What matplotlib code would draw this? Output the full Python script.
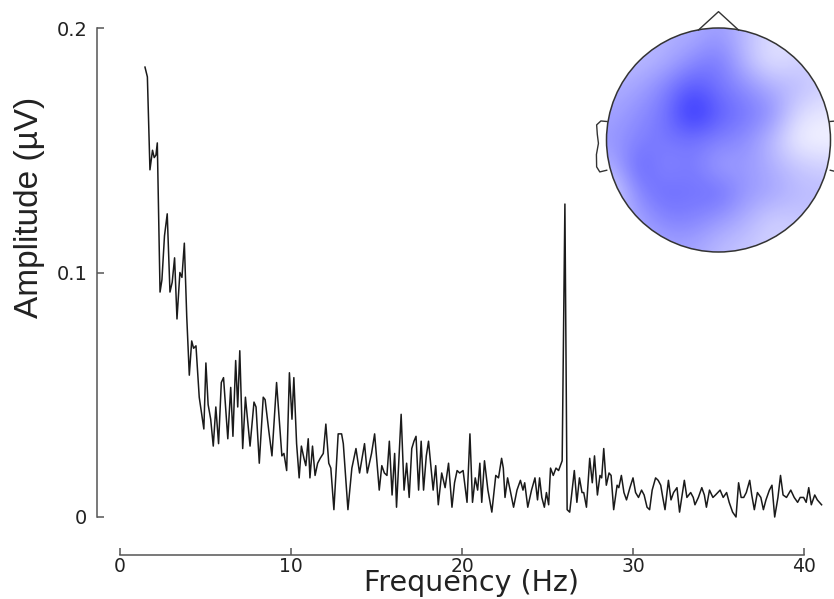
import matplotlib

matplotlib.use("Agg")
import matplotlib.pyplot as plt  # noqa: E402
import numpy as np  # noqa: E402
from matplotlib.colors import LinearSegmentedColormap  # noqa: E402
from matplotlib.patches import Circle  # noqa: E402

# amplitude spectrum (Hz, uV)
FREQ_HZ = [
    1.46, 1.60, 1.75, 1.90, 2.00, 2.10, 2.18, 2.34, 2.45, 2.60, 2.76, 2.92,
    3.05, 3.19, 3.33, 3.50, 3.62, 3.76, 3.90, 4.05, 4.19, 4.30, 4.44, 4.63,
    4.90, 5.02, 5.15, 5.30, 5.45, 5.60, 5.76, 5.92, 6.05, 6.17, 6.30, 6.47,
    6.60, 6.76, 6.88, 7.00, 7.17, 7.33, 7.45, 7.60, 7.83, 7.95, 8.14, 8.37,
    8.48, 8.70, 8.88, 9.15, 9.46, 9.58, 9.74, 9.90, 10.05, 10.16, 10.32, 10.47,
    10.60, 10.75, 10.86, 11.00, 11.10, 11.25, 11.40, 11.55, 11.70, 11.88, 12.03, 12.20,
    12.32, 12.50, 12.75, 12.95, 13.05, 13.32, 13.55, 13.79, 14.00, 14.29, 14.45, 14.70,
    14.88, 15.15, 15.30, 15.45, 15.60, 15.74, 15.90, 16.05, 16.16, 16.43, 16.60, 16.75,
    16.90, 17.05, 17.18, 17.30, 17.45, 17.60, 17.74, 17.90, 18.03, 18.18, 18.30, 18.45,
    18.60, 18.80, 19.00, 19.20, 19.40, 19.55, 19.70, 19.85, 20.05, 20.28, 20.45, 20.60,
    20.76, 20.90, 21.03, 21.14, 21.30, 21.50, 21.73, 21.96, 22.12, 22.30, 22.40, 22.50,
    22.65, 22.80, 23.00, 23.20, 23.40, 23.55, 23.65, 23.83, 24.05, 24.25, 24.40, 24.52,
    24.65, 24.80, 24.92, 25.05, 25.16, 25.32, 25.48, 25.63, 25.84, 26.00, 26.13, 26.28,
    26.55, 26.70, 26.85, 27.00, 27.10, 27.26, 27.45, 27.60, 27.73, 27.90, 28.05, 28.15,
    28.27, 28.42, 28.58, 28.70, 28.85, 29.05, 29.15, 29.30, 29.45, 29.60, 29.80, 29.98,
    30.13, 30.30, 30.48, 30.63, 30.80, 30.95, 31.10, 31.30, 31.45, 31.60, 31.72, 31.85,
    32.05, 32.20, 32.35, 32.55, 32.70, 32.98, 33.13, 33.35, 33.50, 33.60, 33.80, 34.00,
    34.15, 34.27, 34.45, 34.65, 34.80, 35.07, 35.25, 35.45, 35.60, 35.80, 36.00, 36.15,
    36.30, 36.45, 36.60, 36.80, 36.92, 37.07, 37.25, 37.45, 37.60, 37.75, 37.95, 38.10,
    38.26, 38.45, 38.60, 38.75, 38.95, 39.20, 39.40, 39.60, 39.75, 39.95, 40.10, 40.25,
    40.40, 40.60, 40.75, 41.00,
]
AMP_UV = [
    0.184, 0.180, 0.142, 0.150, 0.147, 0.148, 0.153, 0.092, 0.097, 0.115, 0.124, 0.092,
    0.096, 0.106, 0.081, 0.100, 0.098, 0.112, 0.082, 0.058, 0.072, 0.069, 0.070, 0.049,
    0.036, 0.063, 0.046, 0.040, 0.029, 0.045, 0.030, 0.055, 0.057, 0.045, 0.032, 0.053,
    0.033, 0.064, 0.045, 0.068, 0.028, 0.049, 0.040, 0.029, 0.047, 0.045, 0.022, 0.049,
    0.048, 0.035, 0.025, 0.055, 0.025, 0.026, 0.019, 0.059, 0.040, 0.057, 0.030, 0.016,
    0.029, 0.024, 0.021, 0.032, 0.016, 0.029, 0.017, 0.022, 0.024, 0.026, 0.038, 0.022,
    0.020, 0.003, 0.034, 0.034, 0.030, 0.003, 0.020, 0.028, 0.018, 0.030, 0.018, 0.026,
    0.034, 0.011, 0.021, 0.018, 0.017, 0.031, 0.009, 0.026, 0.004, 0.042, 0.011, 0.022,
    0.008, 0.028, 0.031, 0.033, 0.011, 0.031, 0.011, 0.025, 0.031, 0.020, 0.011, 0.021,
    0.005, 0.018, 0.012, 0.022, 0.004, 0.014, 0.019, 0.018, 0.019, 0.006, 0.034, 0.006,
    0.016, 0.011, 0.022, 0.006, 0.023, 0.011, 0.002, 0.017, 0.016, 0.024, 0.020, 0.008,
    0.016, 0.011, 0.004, 0.011, 0.015, 0.011, 0.014, 0.004, 0.011, 0.016, 0.007, 0.016,
    0.008, 0.004, 0.010, 0.005, 0.020, 0.017, 0.020, 0.019, 0.023, 0.128, 0.003, 0.002,
    0.019, 0.006, 0.016, 0.010, 0.010, 0.004, 0.024, 0.014, 0.025, 0.009, 0.017, 0.016,
    0.028, 0.013, 0.018, 0.017, 0.003, 0.013, 0.012, 0.017, 0.010, 0.007, 0.012, 0.016,
    0.010, 0.008, 0.011, 0.009, 0.004, 0.003, 0.011, 0.016, 0.015, 0.013, 0.008, 0.003,
    0.015, 0.007, 0.010, 0.012, 0.002, 0.015, 0.008, 0.010, 0.008, 0.005, 0.008, 0.012,
    0.009, 0.004, 0.011, 0.008, 0.009, 0.011, 0.008, 0.010, 0.006, 0.002, 0.000, 0.014,
    0.008, 0.008, 0.010, 0.015, 0.009, 0.003, 0.010, 0.008, 0.003, 0.007, 0.011, 0.013,
    0.000, 0.008, 0.017, 0.009, 0.008, 0.011, 0.008, 0.006, 0.008, 0.008, 0.006, 0.012,
    0.005, 0.009, 0.007, 0.005,
]

X_TICKS = [0, 10, 20, 30, 40]
Y_TICKS = [0, 0.1, 0.2]
Y_TICK_LABELS = ["0", "0.1", "0.2"]

# scalp map intensity (0 = white, 1 = full blue), 9x9 over the head square,
# rows top -> bottom, cols left -> right
TOPO_GRID = [
    [0.30, 0.30, 0.35, 0.35, 0.45, 0.30, 0.15, 0.15, 0.15],
    [0.30, 0.30, 0.35, 0.50, 0.60, 0.30, 0.10, 0.20, 0.20],
    [0.35, 0.40, 0.55, 0.75, 0.60, 0.50, 0.35, 0.30, 0.20],
    [0.40, 0.50, 0.60, 0.95, 0.70, 0.60, 0.50, 0.15, 0.10],
    [0.45, 0.55, 0.60, 0.60, 0.55, 0.50, 0.30, 0.05, 0.05],
    [0.35, 0.70, 0.50, 0.60, 0.40, 0.45, 0.35, 0.25, 0.20],
    [0.15, 0.55, 0.65, 0.60, 0.65, 0.45, 0.40, 0.30, 0.30],
    [0.30, 0.40, 0.55, 0.55, 0.45, 0.35, 0.20, 0.25, 0.25],
    [0.30, 0.35, 0.40, 0.40, 0.30, 0.25, 0.20, 0.20, 0.20],
]

# head outline pieces, in head-radius units
NOSE_X = [-0.179, 0.0, 0.179]
NOSE_Y = [0.982, 1.146, 0.982]
EAR_X = [-0.995, -1.05, -1.088, -1.082, -1.072, -1.09, -1.088, -1.06, -0.998]
EAR_Y = [0.165, 0.17, 0.135, 0.05, -0.03, -0.13, -0.24, -0.285, -0.27]

W, H = 834, 599
fig = plt.figure(figsize=(W / 100, H / 100), dpi=100)
fig.patch.set_facecolor("white")

# ---- spectrum ----
ax = fig.add_axes([120 / W, 1 - 517 / H, 705 / W, 489 / H])
ax.plot(FREQ_HZ, AMP_UV, "-", color="#1a1a1a", lw=1.1, clip_on=False)
ax.set_xlim(0, 41.2)
ax.set_ylim(0, 0.2)

for side in ("top", "right"):
    ax.spines[side].set_visible(False)
ax.spines["left"].set_position(("outward", 16.5))
ax.spines["bottom"].set_position(("outward", 27.5))
ax.spines["left"].set_bounds(0, 0.2)
ax.spines["bottom"].set_bounds(0, 40)
for side in ("left", "bottom"):
    ax.spines[side].set_color("#555555")
    ax.spines[side].set_linewidth(1.1)

ax.set_xticks(X_TICKS)
ax.set_xticklabels([str(t) for t in X_TICKS])
ax.set_yticks(Y_TICKS)
ax.set_yticklabels(Y_TICK_LABELS)
ax.tick_params(direction="in", length=5, width=1.1, color="#555555",
               labelsize=14, labelcolor="#222222")
ax.tick_params(axis="x", pad=1.5, labelsize=13.5)
ax.tick_params(axis="y", pad=7)

fig.text(472 / W, 1 - 591 / H, "Frequency (Hz)", ha="center", va="baseline",
         fontsize=20.5, color="#222222")
fig.text(30 / W, 1 - 207 / H, "Amplitude (\u00b5V)", ha="center", va="center",
         rotation=90, fontsize=24, color="#222222", family="Liberation Sans")

# ---- scalp map ----
cx, cy, r = 718.5, 140.0, 112.0
l_px, r_px, t_px, b_px = 590, 850, 5, 265
tax = fig.add_axes([l_px / W, 1 - b_px / H, (r_px - l_px) / W, (b_px - t_px) / H])
tax.set_xlim((l_px - cx) / r, (r_px - cx) / r)
tax.set_ylim(-(b_px - cy) / r, -(t_px - cy) / r)
tax.axis("off")

cmap = LinearSegmentedColormap.from_list("wb", ["#ffffff", "#1a1aff"])
im = tax.imshow(np.array(TOPO_GRID), extent=(-1.06, 1.06, -1.06, 1.06), origin="upper",
                cmap=cmap, vmin=0, vmax=1, interpolation="bicubic", zorder=1)
head = Circle((0, 0), 1.0, transform=tax.transData, fill=False,
              ec="#333333", lw=1.1, zorder=3)
tax.add_patch(head)
im.set_clip_path(head)

tax.plot(NOSE_X, NOSE_Y, color="#333333", lw=1.0, zorder=3)
tax.plot(EAR_X, EAR_Y, color="#333333", lw=1.0, zorder=3)
tax.plot([-x for x in EAR_X], EAR_Y, color="#333333", lw=1.0, zorder=3, clip_on=False)

fig.savefig("out.png", dpi=100, facecolor="white")
plt.close(fig)
